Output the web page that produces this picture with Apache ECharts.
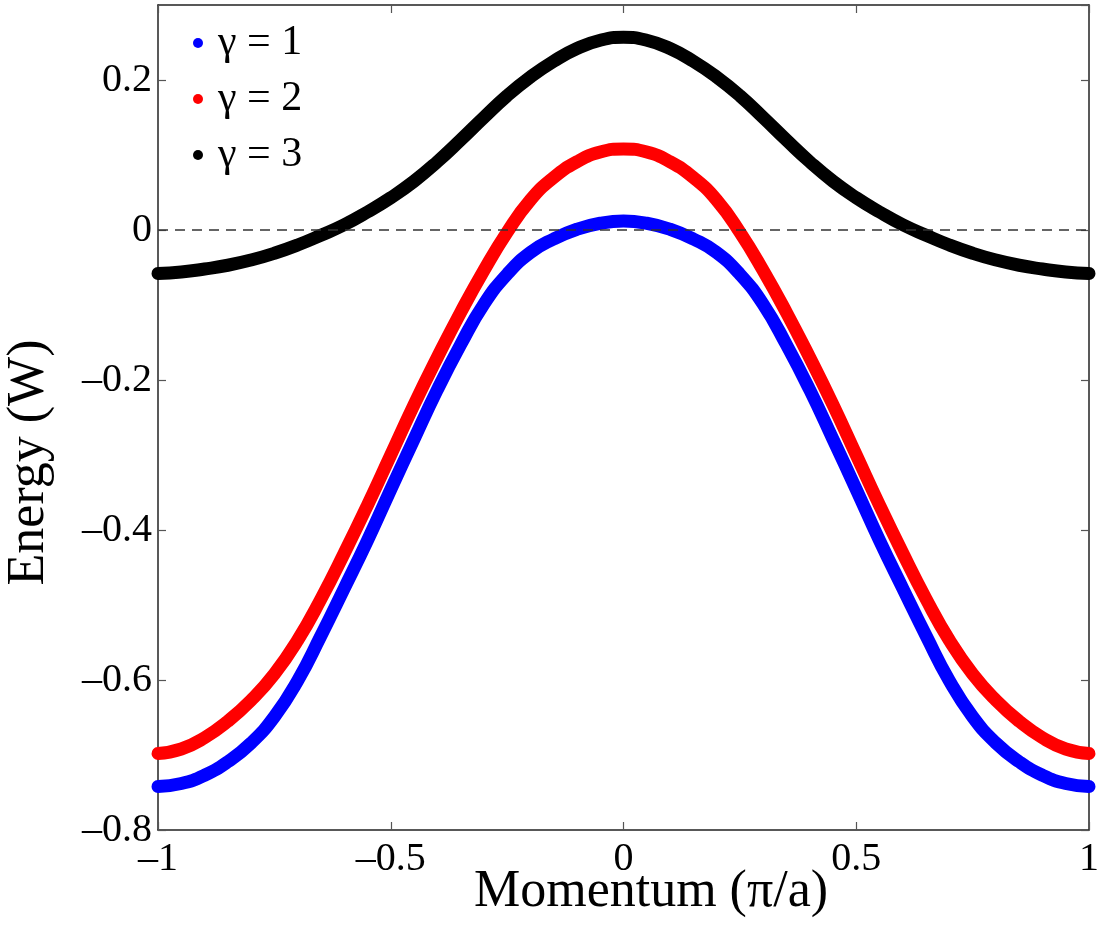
<!DOCTYPE html>
<html>
<head>
<meta charset="utf-8">
<script src="https://cdn.jsdelivr.net/npm/echarts@6/dist/echarts.min.js"></script>
<style>
html,body{margin:0;padding:0;background:#fff;}
#chart{width:1099px;height:936px;}
</style>
</head>
<body>
<div id="chart"></div>
<script>
// Momentum values (π/a)
var momentum = [-1.00,-0.95,-0.90,-0.85,-0.80,-0.75,-0.70,-0.65,-0.60,-0.55,-0.50,-0.45,-0.40,-0.35,-0.30,-0.25,-0.20,-0.15,-0.10,-0.05,
                0.00,0.05,0.10,0.15,0.20,0.25,0.30,0.35,0.40,0.45,0.50,0.55,0.60,0.65,0.70,0.75,0.80,0.85,0.90,0.95,1.00];
// Energy (W) for each gamma
var gamma1 = [-0.742,-0.738,-0.727,-0.709,-0.684,-0.649,-0.601,-0.541,-0.478,-0.414,-0.346,-0.279,-0.213,-0.153,-0.099,-0.059,-0.030,-0.012,0.001,0.009,
              0.012,0.009,0.001,-0.012,-0.030,-0.059,-0.099,-0.153,-0.213,-0.279,-0.346,-0.414,-0.478,-0.541,-0.601,-0.649,-0.684,-0.709,-0.727,-0.738,-0.742];
var gamma2 = [-0.698,-0.692,-0.677,-0.655,-0.627,-0.592,-0.547,-0.492,-0.431,-0.367,-0.300,-0.233,-0.170,-0.110,-0.054,-0.003,0.040,0.070,0.091,0.104,
              0.108,0.104,0.091,0.070,0.040,-0.003,-0.054,-0.110,-0.170,-0.233,-0.300,-0.367,-0.431,-0.492,-0.547,-0.592,-0.627,-0.655,-0.677,-0.692,-0.698];
var gamma3 = [-0.058,-0.056,-0.052,-0.047,-0.040,-0.031,-0.020,-0.007,0.007,0.024,0.043,0.065,0.091,0.120,0.150,0.179,0.204,0.225,0.242,0.253,
              0.257,0.253,0.242,0.225,0.204,0.179,0.150,0.120,0.091,0.065,0.043,0.024,0.007,-0.007,-0.020,-0.031,-0.040,-0.047,-0.052,-0.056,-0.058];
var seriesNames = ['γ = 1','γ = 2','γ = 3'];
var seriesColors = ['#0000ff','#ff0000','#000000'];

function pairs(xs, ys){ return xs.map(function(x,i){ return [x, ys[i]]; }); }

var FONT = 'Liberation Serif';
var chart = echarts.init(document.getElementById('chart'), null, {renderer:'canvas'});

function fmt(v){
  if (Math.abs(v) < 1e-9) return '0';
  var s = String(Math.round(v*10)/10);
  return s.replace('-', '\u2013');
}

var allSeries = [gamma1, gamma2, gamma3].map(function(arr, i){
  return {
    name: seriesNames[i],
    type: 'line',
    xAxisIndex: 0, yAxisIndex: 0,
    data: pairs(momentum, arr),
    smooth: true,
    showSymbol: false,
    symbol: 'circle',
    lineStyle: {color: seriesColors[i], width: 13, cap: 'round', join: 'round'},
    itemStyle: {color: seriesColors[i]},
    z: 3 + i,
    silent: true,
    animation: false
  };
});
allSeries.push({
  name: 'zero',
  type: 'line',
  xAxisIndex: 0, yAxisIndex: 0,
  data: [[-1,0],[1,0]],
  showSymbol: false,
  lineStyle: {color: '#333', width: 1.3, type: [10,7]},
  z: 10,
  silent: true,
  animation: false
});

var tickStyle = {show: true, inside: true, length: 8, lineStyle: {color: '#555', width: 1.2}};
var lineStyle = {show: true, onZero: false, lineStyle: {color: '#222', width: 1.5}};

var option = {
  backgroundColor: '#fff',
  animation: false,
  grid: {left: 158, right: 10, top: 5, bottom: 106, containLabel: false, outerBoundsMode: 'none'},
  legend: {
    data: seriesNames,
    orient: 'vertical',
    left: 193, top: 22,
    padding: 0,
    itemWidth: 10, itemHeight: 10,
    itemGap: 14,
    icon: 'circle',
    textStyle: {fontFamily: FONT, fontSize: 42, color: '#000', padding: [0,0,0,10]},
    selectedMode: false
  },
  xAxis: [{
    type: 'value', position: 'bottom',
    min: -1, max: 1, interval: 0.5,
    name: 'Momentum (\u03c0/a)', nameLocation: 'middle', nameGap: 36, nameMoveOverlap: false,
    nameTextStyle: {fontFamily: FONT, fontSize: 52, color: '#000', padding: [0,0,0,55]},
    axisLine: lineStyle,
    axisTick: tickStyle,
    axisLabel: {fontFamily: FONT, fontSize: 40, color: '#000', margin: 9, formatter: fmt},
    splitLine: {show: false}
  },{
    type: 'value', position: 'top',
    min: -1, max: 1, interval: 0.5,
    axisLine: lineStyle,
    axisTick: tickStyle,
    axisLabel: {show: false},
    splitLine: {show: false}
  }],
  yAxis: [{
    type: 'value', position: 'left',
    min: -0.8, max: 0.3, interval: 0.2,
    name: 'Energy (W)', nameLocation: 'middle', nameGap: 103, nameRotate: 90,
    nameTextStyle: {fontFamily: FONT, fontSize: 52, color: '#000', padding: [0,90,0,0]},
    axisLine: lineStyle,
    axisTick: tickStyle,
    axisLabel: {fontFamily: FONT, fontSize: 40, color: '#000', margin: 6, formatter: fmt, showMaxLabel: false},
    splitLine: {show: false}
  },{
    type: 'value', position: 'right',
    min: -0.8, max: 0.3, interval: 0.2,
    axisLine: lineStyle,
    axisTick: tickStyle,
    axisLabel: {show: false},
    splitLine: {show: false}
  }],
  series: allSeries
};
chart.setOption(option);
</script>
</body>
</html>
